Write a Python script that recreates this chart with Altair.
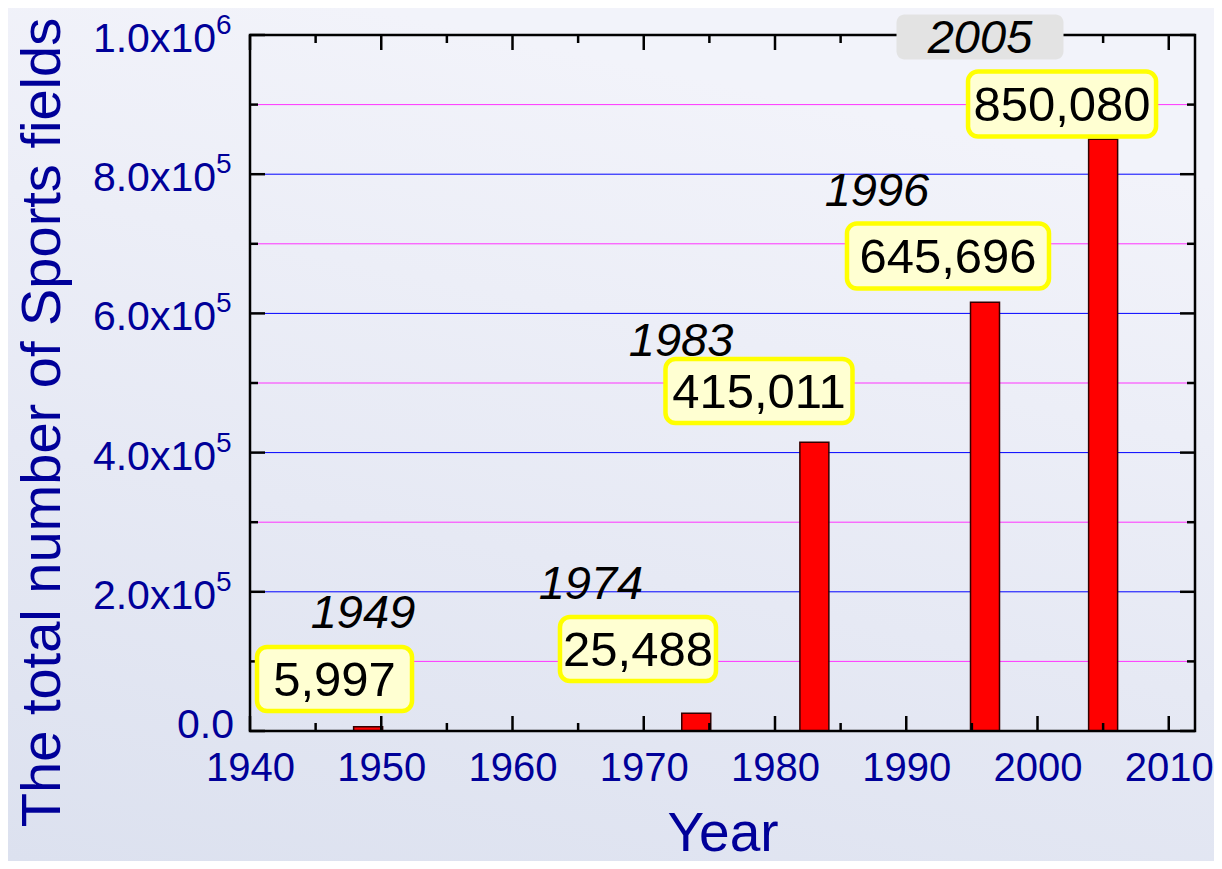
import altair as alt
import pandas as pd

# ---- data ----
years = [1949, 1974, 1983, 1996, 2005]
counts = [5997, 25488, 415011, 616000, 850080]          # bar heights as drawn
value_labels = ["5,997", "25,488", "415,011", "645,696", "850,080"]
year_labels = ["1949", "1974", "1983", "1996", "2005"]

x_major = [1940, 1950, 1960, 1970, 1980, 1990, 2000, 2010]
x_minor = [1945, 1955, 1965, 1975, 1985, 1995, 2005]
y_major = [0, 200000, 400000, 600000, 800000, 1000000]
y_minor = [100000, 300000, 500000, 700000, 900000]
y_tick_main = ["0.0", "2.0x10", "4.0x10", "6.0x10", "8.0x10", "1.0x10"]
y_tick_exp = ["", "5", "5", "5", "5", "6"]

# annotation anchors (data coordinates)
year_label_x = [1948.61, 1965.98, 1972.84, 1987.77, 1995.62]
year_label_y = [171000, 212600, 561800, 777300, 997100]
box_x = [1946.44, 1969.56, 1978.78, 1993.18, 2001.87]
box_y = [74700, 117800, 488500, 682500, 900900]
box_w_px = [155, 156, 187, 202, 188]
box_h_px = [64, 64, 64, 65, 65]
grey_label = "2005"
grey_w_px, grey_h_px = 167, 45

# ---- layout ----
W, H = 945, 696
PAD = {"left": 242, "top": 27, "right": 19, "bottom": 130}
X_DOM = [1940, 2012]
Y_DOM = [0, 1000000]
px_per_year = W / (X_DOM[1] - X_DOM[0])
px_per_val = H / (Y_DOM[1] - Y_DOM[0])

NAVY = "#000099"
FONT = "Liberation Sans"

xs = alt.Scale(domain=X_DOM, nice=False, zero=False, padding=0)
ys = alt.Scale(domain=Y_DOM, nice=False, zero=True, padding=0)

AX_X = alt.Axis(
    values=x_major, format="d", title="Year", grid=False, ticks=False,
    domain=False, labelFont=FONT, labelFontSize=40, labelColor=NAVY,
    labelPadding=17, labelFlush=False, labelOverlap=False, zindex=2,
    titleFont=FONT, titleFontSize=55, titleFontWeight="normal", titleColor=NAVY,
    titleBaseline="alphabetic", titleY=119)
AX_Y = alt.Axis(
    values=y_major, labels=False, title="The total number of Sports fields",
    grid=False, ticks=False, domain=False, zindex=2,
    titleFont=FONT, titleFontSize=56, titleFontWeight="normal", titleColor=NAVY,
    titleAngle=270, titleBaseline="alphabetic", titleAlign="center",
    titleX=-191, titleY=387)


def X(field):
    return alt.X(field, scale=xs, axis=AX_X)


def Y(field):
    return alt.Y(field, scale=ys, axis=AX_Y)


bars_df = pd.DataFrame({"year": years, "count": counts})

boxes_df = pd.DataFrame({
    "label": value_labels,
    "cx": box_x, "cy": box_y,
    "x0": [c - w / 2 / px_per_year for c, w in zip(box_x, box_w_px)],
    "x1": [c + w / 2 / px_per_year for c, w in zip(box_x, box_w_px)],
    "y0": [c - h / 2 / px_per_val for c, h in zip(box_y, box_h_px)],
    "y1": [c + h / 2 / px_per_val for c, h in zip(box_y, box_h_px)],
})
years_df = pd.DataFrame({"label": year_labels, "x": year_label_x, "y": year_label_y})
gi = year_labels.index(grey_label)
grey_df = pd.DataFrame({
    "x0": [year_label_x[gi] - grey_w_px / 2 / px_per_year],
    "x1": [year_label_x[gi] + grey_w_px / 2 / px_per_year],
    "y0": [year_label_y[gi] - grey_h_px / 2 / px_per_val],
    "y1": [year_label_y[gi] + grey_h_px / 2 / px_per_val],
})
ylab_df = pd.DataFrame({"v": y_major, "main": y_tick_main, "exp": y_tick_exp})

# soft slide-like background gradient (decoration)
bg = alt.Chart(pd.DataFrame({"k": [0]})).mark_rect(
    color=alt.LinearGradient(
        gradient="linear",
        stops=[alt.GradientStop(color="#f2f3fa", offset=0),
               alt.GradientStop(color="#e6e9f4", offset=0.55),
               alt.GradientStop(color="#dce1ef", offset=1)],
        x1=0.3, x2=0, y1=0, y2=1)
).encode(x=alt.value(-PAD["left"]), x2=alt.value(W + PAD["right"]),
         y=alt.value(-PAD["top"]), y2=alt.value(H + PAD["bottom"]))

# gridlines
grid_major = alt.Chart(pd.DataFrame({"v": y_major[1:-1]})).mark_rule(
    color="#0000ff", strokeWidth=1).encode(
    y=Y("v:Q"), x=alt.value(0), x2=alt.value(W))
grid_minor = alt.Chart(pd.DataFrame({"v": y_minor})).mark_rule(
    color="#ff33ff", strokeWidth=1).encode(
    y=Y("v:Q"), x=alt.value(0), x2=alt.value(W))

bars = alt.Chart(bars_df).mark_bar(size=29, color="#ff0000", stroke="#330000",
                                    strokeWidth=1.5).encode(
    x=X("year:Q"), y=Y("count:Q"))

frame = alt.Chart(pd.DataFrame({"k": [0]})).mark_rect(
    filled=False, stroke="black", strokeWidth=2.5
).encode(x=alt.value(0), x2=alt.value(W), y=alt.value(0), y2=alt.value(H))


def tick_layer(vals, axis_ch, length):
    df = pd.DataFrame({"v": vals})
    base = alt.Chart(df).mark_rule(color="black", strokeWidth=2.5)
    if axis_ch == "x":
        bottom = base.encode(x=X("v:Q"), y=alt.value(H), y2=alt.value(H - length))
        top = base.encode(x=X("v:Q"), y=alt.value(0), y2=alt.value(length))
        return [bottom, top]
    left = base.encode(y=Y("v:Q"), x=alt.value(0), x2=alt.value(length))
    right = base.encode(y=Y("v:Q"), x=alt.value(W), x2=alt.value(W - length))
    return [left, right]


ticks = (tick_layer(x_major, "x", 15) + tick_layer(x_minor, "x", 8)
         + tick_layer(y_major, "y", 15) + tick_layer(y_minor, "y", 8))

# y tick labels with raised exponents
ylab_base = alt.Chart(ylab_df)
ylab_main = ylab_base.transform_filter("datum.exp != ''").mark_text(
    font=FONT, fontSize=41, color=NAVY, align="right", baseline="alphabetic", dy=17
).encode(y=Y("v:Q"), x=alt.value(-34), text="main:N")
ylab_exp = ylab_base.transform_filter("datum.exp != ''").mark_text(
    font=FONT, fontSize=28, color=NAVY, align="left", baseline="alphabetic", dy=-1
).encode(y=Y("v:Q"), x=alt.value(-34), text="exp:N")
ylab_zero = ylab_base.transform_filter("datum.exp == ''").mark_text(
    font=FONT, fontSize=41, color=NAVY, align="right", baseline="alphabetic", dy=7
).encode(y=Y("v:Q"), x=alt.value(-16), text="main:N")

boxes = alt.Chart(boxes_df).mark_rect(cornerRadius=10, fill="#ffffd2", stroke="#ffff00",
                                       strokeWidth=4.5).encode(
    x=X("x0:Q"), x2="x1:Q", y=Y("y0:Q"), y2="y1:Q")
box_text = alt.Chart(boxes_df).mark_text(font=FONT, fontSize=49, color="black",
                                         align="center", baseline="middle", dy=2).encode(
    x=X("cx:Q"), y=Y("cy:Q"), text="label:N")

grey = alt.Chart(grey_df).mark_rect(cornerRadius=8, fill="#e3e3e3").encode(
    x=X("x0:Q"), x2="x1:Q", y=Y("y0:Q"), y2="y1:Q")
year_text = alt.Chart(years_df).mark_text(font=FONT, fontSize=47, fontStyle="italic",
                                          color="black", align="center",
                                          baseline="middle", dy=2).encode(
    x=X("x:Q"), y=Y("y:Q"), text="label:N")

chart = alt.layer(
    bg, grid_minor, grid_major, bars, frame, *ticks, ylab_main, ylab_exp, ylab_zero,
    boxes, box_text, grey, year_text
).properties(
    width=W, height=H,
    padding=PAD,
    autosize=alt.AutoSizeParams(type="none"),
    background="#e6e9f4",
).configure_view(stroke="transparent")

chart.save("out.html", embed_options={"renderer": "svg", "actions": False})
